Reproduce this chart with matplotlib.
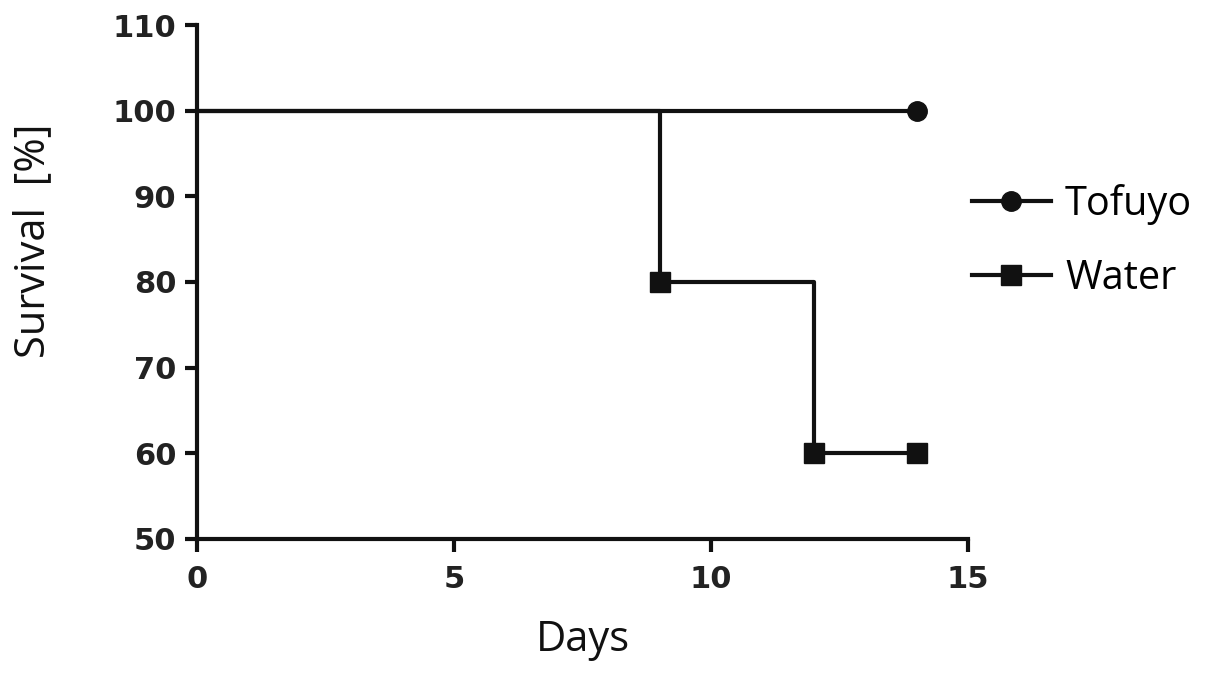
import matplotlib
matplotlib.use("Agg")
import matplotlib.pyplot as plt
from matplotlib.lines import Line2D

# Data
tofuyo_days = [0, 14]
tofuyo_surv = [100, 100]
tofuyo_marker_days = [14]
tofuyo_marker_surv = [100]

water_days = [0, 9, 12, 14]
water_surv = [100, 80, 60, 60]
water_marker_days = [9, 12, 14]
water_marker_surv = [80, 60, 60]

xticks = [0, 5, 10, 15]
yticks = [50, 60, 70, 80, 90, 100, 110]

fig = plt.figure(figsize=(12.05, 6.8), dpi=100)
ax = fig.add_axes([0.1635, 0.2074, 0.8033 - 0.1635, 0.9632 - 0.2074])

lw = 3.0
ax.plot(tofuyo_days, tofuyo_surv, drawstyle="steps-post", color="#111111", lw=lw, zorder=3)
ax.plot(tofuyo_marker_days, tofuyo_marker_surv, "o", color="#111111", ms=14, zorder=4)
ax.plot(water_days, water_surv, drawstyle="steps-post", color="#111111", lw=lw, zorder=3)
ax.plot(water_marker_days, water_marker_surv, "s", color="#111111", ms=14, zorder=4)

ax.set_xlim(0, 15)
ax.set_ylim(50, 110)
ax.set_xticks(xticks)
ax.set_yticks(yticks)
for s in ["top", "right"]:
    ax.spines[s].set_visible(False)
for s in ["left", "bottom"]:
    ax.spines[s].set_linewidth(lw)
    ax.spines[s].set_color("#111111")
ax.tick_params(width=lw, length=9, color="#111111", labelsize=22)
ax.tick_params(axis="x", pad=10)
ax.tick_params(axis="y", pad=6)
for lab in ax.get_xticklabels() + ax.get_yticklabels():
    lab.set_fontweight("bold")
    lab.set_family("DejaVu Sans")
    lab.set_color("#222222")

ax.set_xlabel("Days", fontsize=30, family="Open Sans", color="#111111", labelpad=18)
ax.set_ylabel("Survival  [%]", fontsize=30, family="Open Sans", color="#111111")
ax.yaxis.set_label_coords(-0.185, 0.58)

handles = [
    Line2D([0], [0], color="#111111", lw=lw, marker="o", ms=14),
    Line2D([0], [0], color="#111111", lw=lw, marker="s", ms=14),
]
fig.legend(handles, ["Tofuyo", "Water"], loc="center left",
           bbox_to_anchor=(0.777, 0.645), frameon=False,
           prop={"family": "Open Sans", "size": 28.5},
           handlelength=2.0, handletextpad=0.35, labelspacing=0.85)

fig.savefig("out.png", dpi=100)
